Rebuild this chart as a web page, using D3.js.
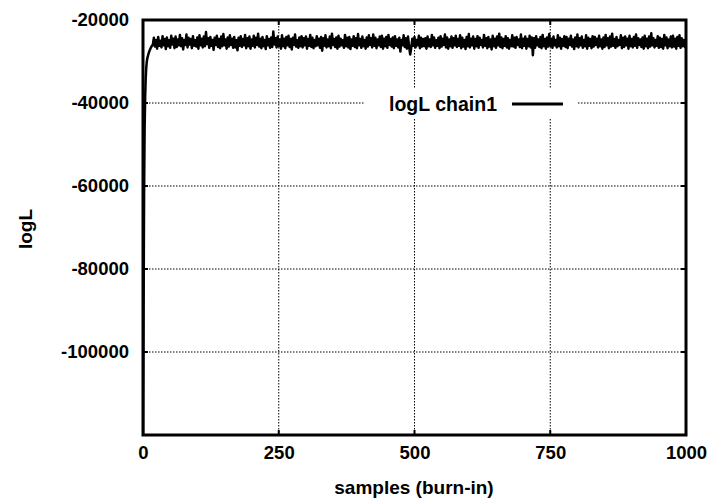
<!DOCTYPE html>
<html><head><meta charset="utf-8">
<script src="https://cdn.jsdelivr.net/npm/d3@7/dist/d3.min.js"></script>
<style>body{margin:0;background:#fff}svg{display:block}text{font-family:"Liberation Sans",Arial,Helvetica,sans-serif;font-weight:bold;fill:#000}</style>
</head><body><svg id="c" width="716" height="501"></svg>
<script>
const xTicks = [0, 250, 500, 750, 1000];
const yTicks = [-20000, -40000, -60000, -80000, -100000];
const xGrid = [250, 500, 750];
const yGrid = [-40000, -60000, -80000, -100000];
const seriesName = "logL chain1";
const earlyX = [0, 1, 2, 3, 4, 5, 6, 7, 8, 10, 12, 14, 16, 18];
const earlyY = [-125000, -92000, -62000, -46000, -38500, -34000, -31500, -30000, -29200, -28200, -27400, -26800, -26300, -26000];
const plateauStart = 20, plateauStep = 2;
const plateauY = [
-24300,-26400,-24800,-26900,-24100,-26200,-25000,-26600,-23900,-26100,
-24600,-27000,-24200,-26300,-24900,-26700,-23800,-25900,-24500,-26800,
-24000,-26500,-24700,-26100,-23600,-26300,-24400,-27100,-24800,-26000,
-23500,-26600,-24300,-25900,-24600,-26800,-23900,-26200,-24900,-26400,
-24200,-26900,-23700,-26100,-24500,-26600,-24000,-26300,-22900,-25800,
-24400,-26700,-24100,-26200,-24800,-27200,-24300,-26000,-23800,-26500,
-24600,-26800,-24000,-26300,-23400,-26100,-24700,-26900,-24200,-26400,
-23700,-26000,-24500,-26700,-24100,-26600,-24900,-27300,-24300,-26200,
-23900,-26500,-24600,-26100,-23600,-26800,-24400,-26300,-24000,-26900,
-24700,-26200,-23800,-26600,-24300,-26000,-23300,-26400,-24500,-26800,
-24100,-26300,-24800,-27000,-23900,-26100,-24600,-26700,-24200,-26500,
-22800,-25900,-24400,-26600,-24000,-26200,-24700,-26900,-23700,-26300,
-24500,-26800,-24100,-26100,-23800,-26500,-24600,-27100,-24300,-26000,
-23500,-26400,-24900,-26700,-24200,-26300,-23900,-26600,-24400,-26100,
-24000,-26900,-24600,-26200,-23600,-26500,-24300,-26800,-24800,-26300,
-23900,-26100,-24500,-26700,-24100,-27400,-24400,-26200,-23700,-26600,
-24700,-26300,-24000,-26800,-23300,-26000,-24600,-26500,-24200,-26900,
-23800,-26400,-24500,-26100,-24900,-26700,-23600,-26300,-24300,-26600,
-24100,-27000,-24700,-26200,-23900,-26500,-24400,-26800,-23400,-26100,
-24600,-26700,-24000,-26300,-24800,-26900,-24200,-26400,-23700,-26000,
-24400,-26600,-23500,-26200,-24300,-26800,-24700,-26100,-24000,-26500,
-23800,-26900,-24500,-26300,-24100,-26700,-23600,-26000,-24600,-26400,
-24200,-26800,-23900,-26200,-24700,-26600,-24300,-27600,-24800,-26100,
-23700,-26500,-24400,-26900,-24000,-26300,-28300,-26700,-24500,-26200,
-24100,-26600,-24800,-26100,-23800,-26800,-24300,-26400,-24600,-26300,
-24400,-26900,-24000,-26300,-24700,-26500,-23600,-26100,-24200,-26700,
-24900,-26200,-24300,-26800,-23900,-26400,-24500,-26000,-23500,-26600,
-24200,-26900,-24700,-26300,-24000,-26700,-24400,-26100,-23800,-26500,
-24600,-26200,-23700,-26800,-24300,-26400,-24800,-27000,-24100,-26300,
-23400,-26600,-24500,-26100,-24000,-26900,-24600,-26300,-23900,-26700,
-24300,-26000,-24800,-26600,-23600,-26200,-24400,-26800,-24100,-26400,
-24700,-27100,-23800,-26300,-24500,-26700,-24000,-26100,-23300,-26500,
-24200,-26800,-24600,-26200,-23900,-26600,-24400,-26900,-24800,-26300,
-23700,-26400,-24300,-26700,-24100,-26000,-24700,-26500,-23500,-26800,
-24500,-26200,-24000,-26900,-24600,-26300,-23800,-26600,-24200,-28500,
-24400,-26700,-23900,-26100,-24700,-26500,-24100,-26800,-23600,-26300,
-24600,-26900,-24200,-26400,-23400,-26200,-24500,-26700,-24000,-26100,
-24800,-26600,-23700,-26300,-24300,-26900,-24600,-26200,-23900,-26500,
-24100,-26800,-24500,-26000,-23800,-26400,-24700,-27000,-24200,-26300,
-23500,-26600,-24400,-26100,-24000,-26700,-24800,-26300,-23700,-26900,
-24300,-26200,-24600,-26800,-23900,-26400,-24100,-26000,-24500,-26600,
-23800,-26300,-24700,-26900,-24200,-26500,-23600,-26100,-24400,-26800,
-24000,-26400,-23300,-26200,-24600,-26700,-24100,-26300,-24800,-26000,
-23700,-26800,-24300,-26500,-24000,-26100,-24500,-26900,-23800,-26300,
-24600,-26600,-24100,-26200,-23500,-26700,-24400,-26000,-24700,-26500,
-24200,-26900,-23800,-26300,-24500,-26800,-24000,-26400,-23200,-26100,
-24400,-26600,-24800,-26200,-23900,-26700,-24300,-26500,-24600,-26900,
-23600,-26100,-24200,-26800,-24700,-26300,-24000,-26600,-23800,-26400,
-24500,-26900,-24100,-26200,-23700,-26700,-24400,-26300,-24800,-26500,
-24900];

const data = earlyX.map((s, i) => [s, earlyY[i]])
  .concat(plateauY.map((v, i) => [plateauStart + i * plateauStep, v]));

const L = 143, R = 686, T = 20, B = 435;
const svg = d3.select("#c");
const x = d3.scaleLinear().domain([0, 1000]).range([L, R]);
const y = d3.scaleLinear().domain([-120000, -20000]).range([B, T]);

// grid
const g = svg.append("g");
g.selectAll(".vg").data(xGrid).join("line")
  .attr("x1", d => x(d)).attr("x2", d => x(d)).attr("y1", T).attr("y2", B)
  .attr("stroke", "#000").attr("stroke-width", 1).attr("stroke-dasharray", "1.5,1.5");
g.selectAll(".hg").data(yGrid).join("line")
  .attr("y1", d => y(d)).attr("y2", d => y(d)).attr("x1", L).attr("x2", R)
  .attr("stroke", "#000").attr("stroke-width", 1).attr("stroke-dasharray", "1.5,1.5");

// legend box (white)
svg.append("rect").attr("x", 365).attr("y", 88).attr("width", 212).attr("height", 30).attr("fill", "#fff");

// clip
svg.append("clipPath").attr("id", "clip").append("rect")
  .attr("x", L).attr("y", T).attr("width", R - L).attr("height", B - T);

svg.append("path").datum(data)
  .attr("clip-path", "url(#clip)")
  .attr("fill", "none").attr("stroke", "#000").attr("stroke-width", 2.5)
  .attr("stroke-linejoin", "round")
  .attr("d", d3.line().x(d => x(d[0])).y(d => y(d[1])));

// ticks inward
const tk = svg.append("g").attr("stroke", "#000").attr("stroke-width", 2);
tk.selectAll(".tb").data(xGrid).join("line")
  .attr("x1", d => x(d)).attr("x2", d => x(d)).attr("y1", B).attr("y2", B - 5);
tk.selectAll(".tt").data(xGrid).join("line")
  .attr("x1", d => x(d)).attr("x2", d => x(d)).attr("y1", T).attr("y2", T + 5);
tk.selectAll(".tl").data(yGrid).join("line")
  .attr("y1", d => y(d)).attr("y2", d => y(d)).attr("x1", L).attr("x2", L + 5);
tk.selectAll(".tr").data(yGrid).join("line")
  .attr("y1", d => y(d)).attr("y2", d => y(d)).attr("x1", R).attr("x2", R - 5);

// frame
svg.append("rect").attr("x", L).attr("y", T).attr("width", R - L).attr("height", B - T)
  .attr("fill", "none").attr("stroke", "#000").attr("stroke-width", 3);

// axes labels via d3 axis
const xAxis = svg.append("g").attr("transform", `translate(0,${B})`)
  .call(d3.axisBottom(x).tickValues(xTicks).tickSize(0).tickPadding(11).tickFormat(d3.format("d")));
const yAxis = svg.append("g").attr("transform", `translate(${L},0)`)
  .call(d3.axisLeft(y).tickValues(yTicks).tickSize(0).tickPadding(14).tickFormat(d => String(d)));
[xAxis, yAxis].forEach(a => {
  a.select(".domain").remove();
  a.selectAll("text").attr("font-size", 18.5).attr("font-family", '"Liberation Sans",Arial,sans-serif').attr("font-weight", "bold");
});

svg.append("text").attr("x", 414).attr("y", 494).attr("text-anchor", "middle")
  .attr("font-size", 19).text("samples (burn-in)");
svg.append("text").attr("transform", "translate(32,229) rotate(-90)").attr("text-anchor", "middle")
  .attr("font-size", 19).text("logL");

// legend
svg.append("text").attr("x", 497).attr("y", 111).attr("text-anchor", "end")
  .attr("font-size", 19.5).text(seriesName);
svg.append("line").attr("x1", 512).attr("x2", 563).attr("y1", 104).attr("y2", 104)
  .attr("stroke", "#000").attr("stroke-width", 3);
</script></body></html>
